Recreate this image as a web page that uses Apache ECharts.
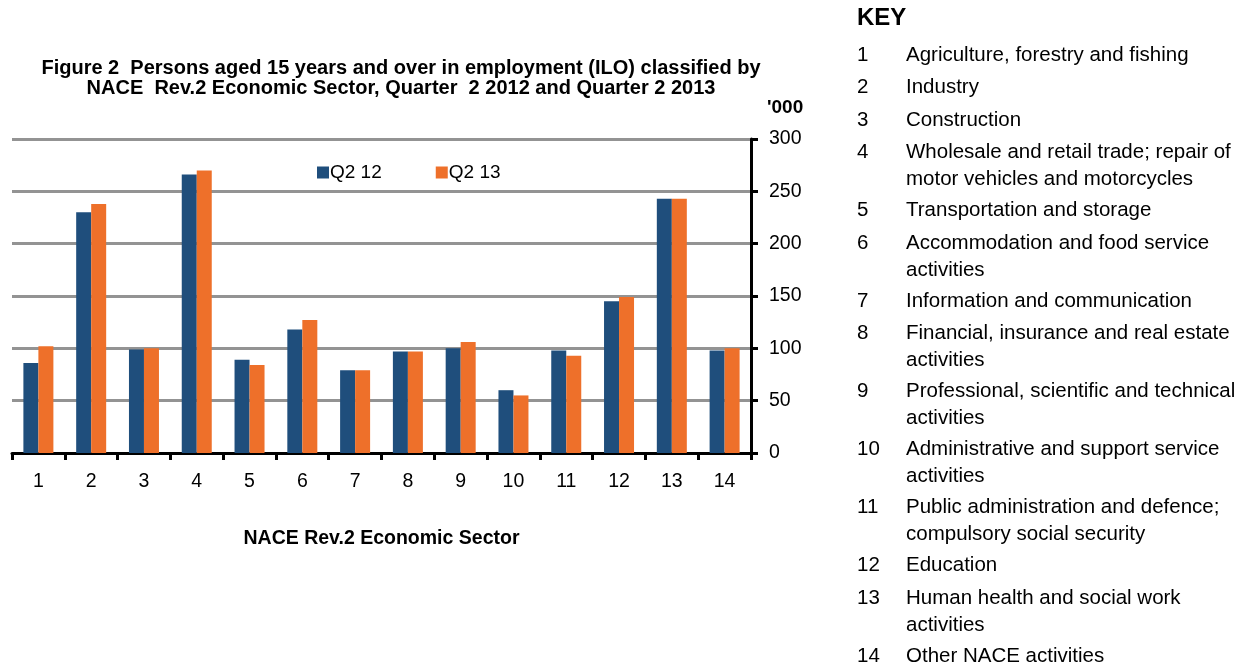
<!DOCTYPE html>
<html>
<head>
<meta charset="utf-8">
<script src="https://cdn.jsdelivr.net/npm/echarts@6/dist/echarts.min.js"></script>
<style>
  html, body { margin: 0; padding: 0; background: #fff; }
  #main { width: 1252px; height: 665px; }
</style>
</head>
<body>
<div id="main"></div>
<script>
var categories = ['1', '2', '3', '4', '5', '6', '7', '8', '9', '10', '11', '12', '13', '14'];
var q212 = [86, 230, 99, 266, 89, 118, 79, 97, 100, 60, 98, 145, 243, 98];
var q213 = [102, 238, 100, 270, 84, 127, 79, 97, 106, 55, 93, 149, 243, 100];
var yTicks = [0, 50, 100, 150, 200, 250, 300];
var sectorNames = [
  'Agriculture, forestry and fishing',
  'Industry',
  'Construction',
  'Wholesale and retail trade; repair of\nmotor vehicles and motorcycles',
  'Transportation and storage',
  'Accommodation and food service\nactivities',
  'Information and communication',
  'Financial, insurance and real estate\nactivities',
  'Professional, scientific and technical\nactivities',
  'Administrative and support service\nactivities',
  'Public administration and defence;\ncompulsory social security',
  'Education',
  'Human health and social work\nactivities',
  'Other NACE activities'
];

var myChart = echarts.init(document.getElementById('main'));
var font = 'Liberation Sans, Arial, sans-serif';

// key panel on the right
var keyItems = [{
  type: 'text', left: 857, top: 6,
  style: { text: 'KEY', font: 'bold 24px ' + font, fill: '#000' }
}];
var ky = 55;
sectorNames.forEach(function (name, i) {
  var lines = name.split('\n').length;
  keyItems.push({
    type: 'text', left: 857, top: ky - 13.5,
    style: { text: categories[i], font: '20.5px ' + font, fill: '#000', lineHeight: 27 }
  });
  keyItems.push({
    type: 'text', left: 906, top: ky - 13.5,
    style: { text: name, font: '20.5px ' + font, fill: '#000', lineHeight: 27 }
  });
  ky += lines > 1 ? 58 : 32.5;
});

option = {
  backgroundColor: '#ffffff',
  animation: false,
  title: {
    text: 'Figure 2  Persons aged 15 years and over in employment (ILO) classified by\nNACE  Rev.2 Economic Sector, Quarter  2 2012 and Quarter 2 2013',
    left: 396, top: 53, textAlign: 'center',
    textStyle: { fontFamily: font, fontWeight: 'bold', fontSize: 20, color: '#000', lineHeight: 20 }
  },
  legend: {
    left: 312, top: 158,
    itemWidth: 12, itemHeight: 12, itemGap: 54,
    icon: 'rect',
    textStyle: { fontFamily: font, fontSize: 19, color: '#000', padding: [0, 0, 0, -4] },
    data: ['Q2 12', 'Q2 13']
  },
  grid: { left: 12, right: 501, top: 139, bottom: 212 },
  xAxis: {
    type: 'category',
    data: categories,
    name: 'NACE Rev.2 Economic Sector',
    nameLocation: 'middle',
    nameGap: 76,
    nameTextStyle: { fontFamily: font, fontWeight: 'bold', fontSize: 19.5, color: '#000' },
    axisLine: { lineStyle: { color: '#000', width: 3 } },
    axisTick: { show: true, length: 7, lineStyle: { color: '#000', width: 3 } },
    axisLabel: { fontFamily: font, fontSize: 19.5, color: '#000', margin: 19 }
  },
  yAxis: {
    type: 'value',
    position: 'right',
    min: 0, max: 300, interval: 50,
    name: "'000",
    nameLocation: 'end',
    nameGap: 22,
    nameTextStyle: { fontFamily: font, fontWeight: 'bold', fontSize: 19, color: '#000', align: 'left', padding: [0, 0, 0, 16] },
    axisLine: { show: true, lineStyle: { color: '#000', width: 3 } },
    axisTick: { show: true, length: 7, lineStyle: { color: '#000', width: 3 } },
    axisLabel: {
      fontFamily: font, fontSize: 19.5, color: '#000', margin: 18,
      formatter: function (v) { return yTicks.indexOf(v) >= 0 ? String(v) : ''; }
    },
    splitLine: { lineStyle: { color: '#939393', width: 3 } }
  },
  series: [
    {
      name: 'Q2 12', type: 'bar', data: q212,
      barWidth: 15, barGap: '0%',
      itemStyle: { color: '#1f4e7c' }
    },
    {
      name: 'Q2 13', type: 'bar', data: q213,
      barWidth: 15,
      itemStyle: { color: '#ee702a' }
    }
  ],
  graphic: keyItems
};
myChart.setOption(option);
</script>
</body>
</html>
